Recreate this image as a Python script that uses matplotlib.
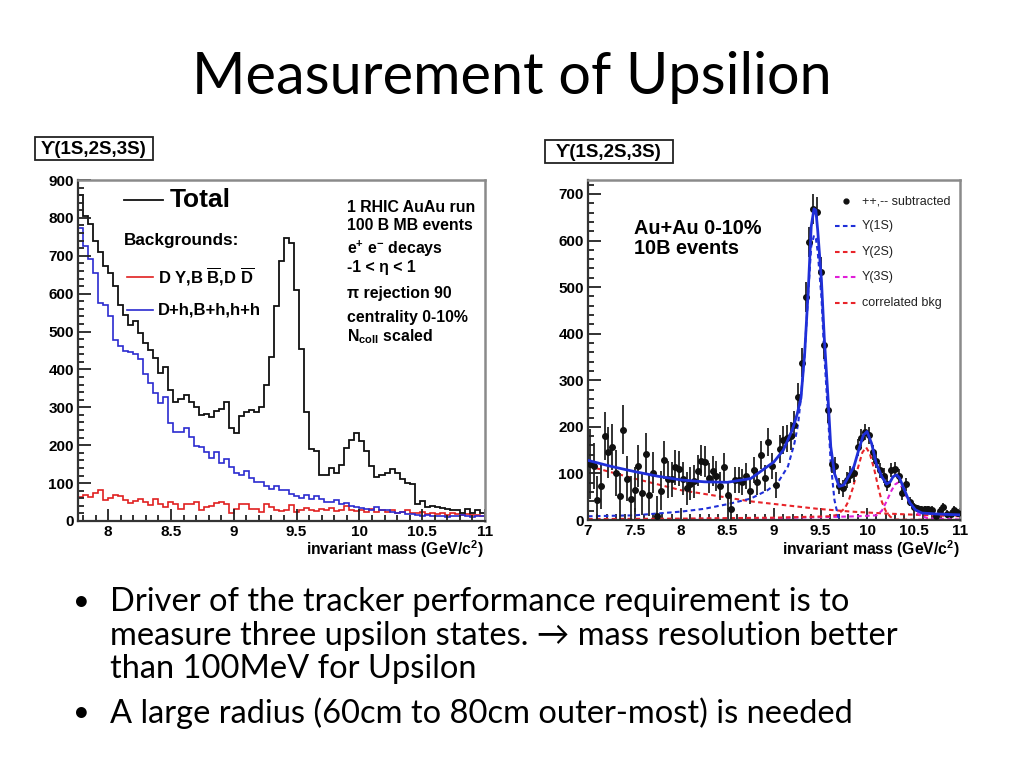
import matplotlib
matplotlib.use("Agg")
import matplotlib.pyplot as plt
import numpy as np
from matplotlib.patches import Rectangle
from matplotlib.lines import Line2D
from matplotlib.ticker import MultipleLocator

plt.rcParams['mathtext.fontset'] = 'custom'
plt.rcParams['mathtext.rm'] = 'Liberation Sans:bold'
plt.rcParams['mathtext.bf'] = 'Liberation Sans:bold'
plt.rcParams['mathtext.it'] = 'Liberation Sans:bold:italic'

# ---------------- data: left histogram ----------------
left_bin_start = 7.76
left_bin_width = 0.04
total_counts = [860, 805, 785, 739, 709, 673, 655, 620, 571, 545,
                518, 527, 497, 470, 452, 430, 391, 406, 347, 313,
                322, 333, 315, 300, 280, 282, 275, 290, 295, 313,
                245, 232, 276, 289, 292, 289, 302, 359, 434, 567,
                686, 748, 733, 610, 453, 288, 190, 185, 122, 122,
                139, 128, 148, 192, 214, 232, 210, 184, 144, 117,
                122, 126, 136, 128, 110, 100, 98, 45, 52, 38,
                40, 38, 35, 32, 30, 30, 22, 32, 22, 28, 20]
hadron_counts = [774, 726, 692, 655, 576, 569, 542, 479, 462, 449,
                 445, 441, 428, 389, 364, 337, 311, 327, 258, 234,
                 236, 245, 221, 198, 195, 181, 166, 183, 154, 163,
                 142, 128, 122, 131, 113, 104, 104, 93, 84, 93,
                 82, 82, 72, 67, 62, 68, 58, 66, 58, 50,
                 50, 55, 46, 48, 40, 38, 34, 31, 29, 38,
                 28, 29, 24, 20, 24, 19, 19, 16, 12, 16,
                 14, 12, 13, 11, 14, 12, 16, 13, 10, 14, 12]
heavy_counts = [64, 69, 64, 73, 81, 55, 60, 69, 66, 55,
                48, 53, 57, 50, 41, 59, 44, 38, 50, 44,
                32, 44, 46, 50, 29, 38, 40, 48, 50, 46,
                20, 32, 46, 46, 32, 32, 25, 46, 38, 28,
                27, 29, 41, 25, 30, 35, 30, 26, 32, 28,
                34, 26, 28, 40, 30, 26, 30, 24, 32, 25,
                28, 24, 30, 22, 25, 28, 22, 20, 24, 18,
                22, 19, 20, 17, 20, 18, 16, 18, 15, 17, 14]
left_xticks = [8, 8.5, 9, 9.5, 10, 10.5, 11]
left_xticklabels = ["8", "8.5", "9", "9.5", "10", "10.5", "11"]
left_yticks = [0, 100, 200, 300, 400, 500, 600, 700, 800, 900]

# ---------------- data: right plot ----------------
right_bin_start = 7.0
right_bin_width = 0.04
signal_counts = [120, 116, 44, 73, 180, 145, 157, 101, 51, 194,
                 89, 46, 65, 116, 57, 141, 54, 101, 8, 63,
                 129, 87, 87, 113, 110, 89, 68, 78, 83, 106,
                 127, 125, 91, 106, 95, 73, 113, 54, 23, 86,
                 86, 82, 94, 63, 108, 82, 140, 90, 168, 115,
                 75, 152, 172, 175, 181, 205, 265, 338, 478, 597,
                 667, 662, 533, 375, 236, 120, 116, 73, 68, 86,
                 97, 100, 156, 177, 189, 182, 145, 127, 107, 95,
                 77, 107, 109, 95, 57, 77, 39, 28, 25, 23,
                 23, 23, 22, 8, 20, 28, 13, 13, 22, 15]
signal_errors = [75, 50, 50, 50, 52, 55, 50, 50, 50, 52,
                 48, 48, 48, 46, 46, 45, 45, 44, 44, 42,
                 40, 40, 38, 38, 38, 36, 36, 35, 35, 34,
                 33, 33, 32, 32, 32, 30, 30, 30, 30, 28,
                 28, 28, 28, 28, 28, 28, 30, 28, 30, 28,
                 28, 30, 30, 30, 30, 30, 30, 32, 32, 32,
                 32, 32, 32, 30, 28, 20, 20, 18, 18, 18,
                 18, 18, 18, 18, 18, 18, 16, 16, 16, 16,
                 15, 15, 15, 15, 14, 14, 10, 8, 8, 8,
                 8, 8, 8, 8, 8, 8, 8, 8, 8, 8]

fit_total_x = [7.0, 7.25, 7.5, 7.75, 8.0, 8.25, 8.5, 8.75, 9.0, 9.1, 9.2, 9.25, 9.29,
               9.33, 9.37, 9.40, 9.43, 9.45, 9.47, 9.51, 9.54, 9.58, 9.61, 9.65, 9.70,
               9.75, 9.80, 9.86, 9.91, 9.96, 10.0, 10.05, 10.1, 10.16, 10.21, 10.25,
               10.28, 10.32, 10.35, 10.41, 10.46, 10.52, 10.59, 10.74, 11.0]
fit_total_y = [128, 115, 104, 94, 86, 82, 81, 89, 125, 150, 195, 228, 262,
               358, 500, 630, 668, 665, 622, 515, 393, 265, 158, 100, 72,
               75, 93, 115, 150, 182, 190, 164, 121, 93, 77, 82,
               93, 97, 90, 61, 37, 22, 15, 13, 11]
fit_1s_x = [7.0, 7.5, 8.0, 8.25, 8.5, 8.75, 8.93, 9.04, 9.15, 9.22, 9.26, 9.29, 9.33,
            9.37, 9.40, 9.43, 9.45, 9.47, 9.51, 9.54, 9.58, 9.61, 9.65, 9.69, 9.72, 11.0]
fit_1s_y = [8, 10, 18, 24, 34, 46, 64, 80, 115, 165, 207, 265, 358,
            494, 587, 611, 605, 576, 479, 358, 229, 122, 43, 7, 0, 0]
fit_2s_x = [7.0, 8.0, 9.0, 9.6, 9.68, 9.76, 9.80, 9.85, 9.90, 9.95, 9.99, 10.03,
            10.08, 10.12, 10.16, 10.20, 10.25, 10.30, 11.0]
fit_2s_y = [2, 3, 5, 8, 11, 25, 40, 70, 110, 145, 156, 143,
            107, 71, 39, 20, 7, 1, 0]
fit_3s_x = [7.0, 8.0, 9.0, 9.5, 9.9, 10.1, 10.16, 10.21, 10.26, 10.30, 10.33, 10.37,
            10.41, 10.46, 10.52, 10.58, 10.65, 11.0]
fit_3s_y = [1, 2, 4, 6, 8, 10, 20, 40, 62, 76, 80, 72,
            55, 35, 18, 9, 4, 1]
fit_bkg_x = [7.0, 7.5, 8.0, 8.5, 8.75, 9.11, 9.47, 9.83, 10.19, 10.55, 11.0]
fit_bkg_y = [116, 89, 64, 48, 40, 32, 24, 18, 14, 11, 8]
right_xticks = [7, 7.5, 8, 8.5, 9, 9.5, 10, 10.5, 11]
right_xticklabels = ["7", "7.5", "8", "8.5", "9", "9.5", "10", "10.5", "11"]
right_yticks = [0, 100, 200, 300, 400, 500, 600, 700]

# ---------------- figure ----------------
W, H = 1024, 768
fig = plt.figure(figsize=(10.24, 7.68), dpi=100)
fig.patch.set_facecolor("white")


def fx(x):
    return x / W


def fy(y):
    return 1 - y / H


ROOT = "Liberation Sans"
BLACK = "#111111"
BLUE_H = "#2b2bd0"
RED_H = "#e02020"


def root_style(ax, ymaj, ymin, xmin=0.1):
    for s in ["top", "right"]:
        ax.spines[s].set_color("#8a8a8a")
        ax.spines[s].set_linewidth(1.8)
    for s in ["left", "bottom"]:
        ax.spines[s].set_color("#333333")
        ax.spines[s].set_linewidth(1.6)
    ax.yaxis.set_minor_locator(MultipleLocator(ymin))
    ax.xaxis.set_minor_locator(MultipleLocator(xmin))
    ax.tick_params(which="both", direction="in", top=False, right=False,
                   color="#222222", width=1.3)
    ax.tick_params(which="major", length=9, labelsize=11, pad=3)
    ax.tick_params(which="minor", length=4.5)
    for lab in ax.get_xticklabels() + ax.get_yticklabels():
        lab.set_fontfamily(ROOT)
        lab.set_fontweight("bold")


# ---- left panel ----
axL = fig.add_axes([fx(78), fy(521), fx(485) - fx(78), fy(180) - fy(521)])
edgesL = left_bin_start + left_bin_width * np.arange(len(total_counts) + 1)
axL.stairs(heavy_counts, edgesL, color=RED_H, lw=1.2, baseline=None)
axL.stairs(hadron_counts, edgesL, color=BLUE_H, lw=1.2, baseline=None)
axL.stairs(total_counts, edgesL, color=BLACK, lw=1.3, baseline=None)
axL.set_xlim(left_bin_start, 11.0)
axL.set_ylim(0, 900)
axL.set_xticks(left_xticks)
axL.set_xticklabels(left_xticklabels)
axL.set_yticks(left_yticks)
root_style(axL, 100, 20)

# ---- right panel ----
axR = fig.add_axes([fx(588), fy(520), fx(960) - fx(588), fy(180) - fy(520)])
centersR = right_bin_start + right_bin_width * (np.arange(len(signal_counts)) + 0.5)
dash = (0, (2.2, 1.6))
axR.plot(fit_bkg_x, fit_bkg_y, color="#e8242a", lw=1.5, ls=dash)
axR.plot(fit_3s_x, fit_3s_y, color="#e01fd8", lw=1.5, ls=dash)
axR.plot(fit_2s_x, fit_2s_y, color="#e8242a", lw=1.5, ls=dash)
axR.plot(fit_1s_x, fit_1s_y, color="#1f2fd8", lw=1.5, ls=dash)
axR.errorbar(centersR, signal_counts, yerr=signal_errors, fmt="o", ms=4,
             color="#111111", ecolor="#222222", elinewidth=1.3, capsize=0, zorder=3)
axR.plot(fit_total_x, fit_total_y, color="#1f2fd8", lw=2.0, zorder=4)
axR.set_xlim(7.0, 11.0)
axR.set_ylim(0, 730)
axR.set_xticks(right_xticks)
axR.set_xticklabels(right_xticklabels)
axR.set_yticks(right_yticks)
root_style(axR, 100, 20)

# ---- axis titles ----
fig.text(fx(484), fy(549), r"invariant mass (GeV/c$^{2}$)", ha="right", va="center",
         fontsize=11.3, family=ROOT, fontweight="bold")
fig.text(fx(960), fy(549), r"invariant mass (GeV/c$^{2}$)", ha="right", va="center",
         fontsize=11.3, family=ROOT, fontweight="bold")

# ---- boxed titles ----
for (x0, y0, x1, y1) in [(35, 137, 153, 160), (545, 140, 673, 163)]:
    fig.add_artist(Rectangle((fx(x0), fy(y1)), fx(x1) - fx(x0), fy(y0) - fy(y1),
                             transform=fig.transFigure, fill=True, facecolor="white",
                             edgecolor="#222222", lw=1.3))
    fig.text(fx((x0 + x1) / 2), fy((y0 + y1) / 2 + 1), "ϒ(1S,2S,3S)", ha="center",
             va="center", fontsize=13.5, family=["Liberation Sans", "DejaVu Sans"],
             fontweight="bold")

# ---- left legend ----
fig.add_artist(Line2D([fx(124), fx(163)], [fy(200), fy(200)], color=BLACK, lw=1.3,
                      transform=fig.transFigure))
fig.text(fx(170), fy(200), "Total", fontsize=19, family=ROOT, fontweight="bold", va="center")
fig.text(fx(124), fy(240), "Backgrounds:", fontsize=12.3, family=ROOT, fontweight="bold",
         va="center")
fig.add_artist(Line2D([fx(127), fx(153)], [fy(277), fy(277)], color=RED_H, lw=1.2,
                      transform=fig.transFigure))
fig.text(fx(158), fy(277), r"D Y,B $\overline{\mathbf{B}}$,D $\overline{\mathbf{D}}$",
         fontsize=12, family=ROOT, fontweight="bold", va="center")
fig.add_artist(Line2D([fx(127), fx(153)], [fy(310), fy(310)], color=BLUE_H, lw=1.2,
                      transform=fig.transFigure))
fig.text(fx(158), fy(310), "D+h,B+h,h+h", fontsize=12, family=ROOT, fontweight="bold",
         va="center")

info_lines = ["1 RHIC AuAu run", "100 B MB events", r"e$^{+}$ e$^{-}$ decays",
              "-1 < η < 1", "π rejection 90", "centrality 0-10%",
              r"N$_{\mathbf{coll}}$ scaled"]
info_y = [208, 225, 249, 268, 293, 317, 337]
for t, yy in zip(info_lines, info_y):
    fig.text(fx(347), fy(yy), t, fontsize=11.4, family=ROOT, fontweight="bold", va="center")

# ---- right legend ----
fig.text(fx(634), fy(229), "Au+Au 0-10%", fontsize=14.3, family=ROOT, fontweight="bold",
         va="center")
fig.text(fx(634), fy(249), "10B events", fontsize=14.3, family=ROOT, fontweight="bold",
         va="center")
fig.add_artist(Line2D([fx(846)], [fy(201)], marker="o", ms=3.5, color="#111111",
                      transform=fig.transFigure))
fig.text(fx(862), fy(201), "++,-- subtracted", fontsize=9, family=ROOT, va="center",
         color="#222222")
leg_items = [("Y(1S)", "#1f2fd8", 226), ("Y(2S)", "#e8242a", 252),
             ("Y(3S)", "#e01fd8", 277), ("correlated bkg", "#e8242a", 303)]
for lab, col, yy in leg_items:
    fig.add_artist(Line2D([fx(835), fx(858)], [fy(yy), fy(yy)], color=col, lw=1.5,
                          ls=dash, transform=fig.transFigure))
    fig.text(fx(862), fy(yy), lab, fontsize=9, family=ROOT, va="center", color="#222222")

# ---- slide title and bullets ----
SLIDE = ["Lato", "DejaVu Sans"]
fig.text(fx(512), fy(77), "Measurement of Upsilion", ha="center", va="center",
         fontsize=41.5, family=SLIDE)
bullet_lines = [
    (602, True, "Driver of the tracker performance requirement is to"),
    (636, False, "measure three upsilon states. \u2192 mass resolution better"),
    (669, False, "than 100MeV for Upsilon"),
    (713, True, "A large radius (60cm to 80cm outer-most) is needed"),
]
for yy, bul, t in bullet_lines:
    if bul:
        fig.text(fx(73), fy(yy), "•", fontsize=21, family=SLIDE, va="center")
    fig.text(fx(110), fy(yy), t, fontsize=23.5, family=SLIDE, va="center")

fig.savefig("out.png", dpi=100, facecolor="white")
